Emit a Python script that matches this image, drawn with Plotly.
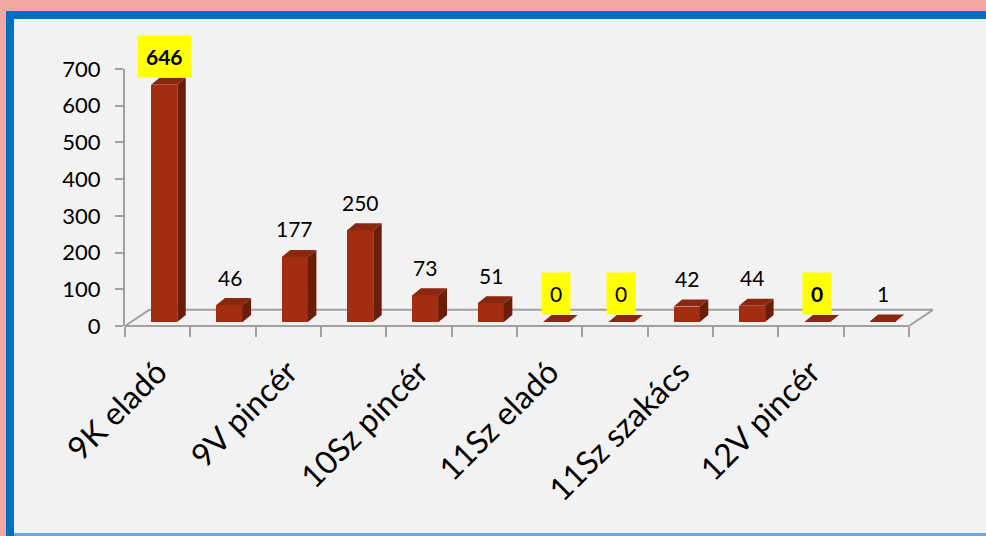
import plotly.graph_objects as go

# ---- data ----
values = [646, 46, 177, 250, 73, 51, 0, 0, 42, 44, 0, 1]
tick_labels = ["9K eladó", "9V pincér", "10Sz pincér", "11Sz eladó", "11Sz szakács", "12V pincér"]
tick_positions = [0, 2, 4, 6, 8, 10]
y_ticks = [0, 100, 200, 300, 400, 500, 600, 700]

# ---- style ----
highlight = [True, False, False, False, False, False, True, True, False, False, True, False]
bold = [True, False, False, False, False, False, False, False, False, False, True, False]
FRONT = "#A32D10"
TOP = "#8A2710"
SIDE = "#6A1D0A"
FONT = "Lato"

n = len(values)
xr = [-0.5, n - 0.5 + 0.37]
yr = [0, 700]
base = 11          # bars stand in the middle of the floor depth
bw = 0.4           # front face width
off = 0.1          # shift of front face centre
dx, dy = 0.13, 19  # 3D depth of each bar
fdx, fdy = 0.37, 44  # depth of the floor

fig = go.Figure()

# front faces
fig.add_trace(go.Bar(
    x=[i + off for i in range(n)], y=values, base=[base] * n, width=bw,
    marker=dict(color=FRONT, line=dict(width=0)), hoverinfo="skip", showlegend=False,
))

# side & top faces
sx, sy, tx, ty = [], [], [], []
for i, v in enumerate(values):
    l = i + off - bw / 2
    r = i + off + bw / 2
    b = base
    t = base + v
    sx += [r, r + dx, r + dx, r, r, None]
    sy += [b, b + dy, t + dy, t, b, None]
    tx += [l, r, r + dx, l + dx, l, None]
    ty += [t, t, t + dy, t + dy, t, None]
fig.add_trace(go.Scatter(x=sx, y=sy, fill="toself", fillcolor=SIDE, mode="lines",
                         line=dict(width=0, color=SIDE), hoverinfo="skip", showlegend=False))
fig.add_trace(go.Scatter(x=tx, y=ty, fill="toself", fillcolor=TOP, mode="lines",
                         line=dict(width=0, color=TOP), hoverinfo="skip", showlegend=False))

# dummy trace for label axis
fig.add_trace(go.Scatter(x=[xr[0], xr[1]], y=[0, 0], xaxis="x2", mode="none",
                         hoverinfo="skip", showlegend=False))

# value labels
for i, v in enumerate(values):
    txt = f"<b>{v}</b>" if bold[i] else str(v)
    fig.add_annotation(
        x=i + off, y=v + base, xref="x", yref="y", text=txt, showarrow=False,
        yanchor="middle", yshift=28,
        font=dict(family=FONT, size=21, color="black"),
        bgcolor="#FFFF00" if highlight[i] else "rgba(0,0,0,0)",
        borderpad=8 if highlight[i] else 0,
    )

# floor outline (paper coords derived from axis values)
def fx(v):
    return (v - xr[0]) / (xr[1] - xr[0])

def fy(v):
    return (v - yr[0]) / (yr[1] - yr[0])

GRAY = "#A0A0A0"
floor = [
    ((-0.5, 0), (n - 0.5, 0)),
    ((-0.5, 0), (-0.5 + fdx, fdy)),
    ((-0.5 + fdx, fdy), (n - 0.5 + fdx, fdy)),
    ((n - 0.5, 0), (n - 0.5 + fdx, fdy)),
]
for (x0, y0), (x1, y1) in floor:
    fig.add_shape(type="line", xref="paper", yref="paper",
                  x0=fx(x0), y0=fy(y0), x1=fx(x1), y1=fy(y1),
                  line=dict(color=GRAY, width=2), layer="below")

# frame decoration (paper coords from pixel layout)
L, R, T, B = 125, 933, 69, 326
W, H = 986, 536
def px(p):
    return (p - L) / (R - L)
def py(q):
    return (B - q) / (B - T)

frame = [
    (0, W, 0, 11, "#F3A6A4"),
    (0, 6, 0, H, "#F3A6A4"),
    (6, W, 11, 19, "#0070C0"),
    (6, 14, 11, H, "#0070C0"),
    (14, W, 533, H, "#6FA8DC"),
]
for x0, x1, y0, y1, c in frame:
    fig.add_shape(type="rect", xref="paper", yref="paper",
                  x0=px(x0), x1=px(x1), y0=py(y1), y1=py(y0),
                  fillcolor=c, line=dict(width=0))

fig.update_layout(
    width=W, height=H,
    margin=dict(l=L, r=W - R, t=T, b=H - B),
    paper_bgcolor="#F2F2F2", plot_bgcolor="#F2F2F2",
    font=dict(family=FONT, color="black"),
    bargap=0,
    xaxis=dict(
        range=xr, tickvals=[i - 0.5 for i in range(n + 1)], ticks="outside",
        ticklen=10, tickwidth=2, tickcolor=GRAY, showticklabels=False,
        showline=False, showgrid=False, zeroline=False,
    ),
    xaxis2=dict(
        range=xr, overlaying="x", side="bottom", anchor="y",
        tickvals=tick_positions, ticktext=tick_labels, tickangle=-45,
        ticks="", showline=False, showgrid=False, zeroline=False,
        tickfont=dict(family=FONT, size=32, color="black"),
        ticklabelstandoff=20,
    ),
    yaxis=dict(
        range=yr, tickvals=y_ticks, ticks="outside", ticklen=8, tickwidth=2,
        tickcolor=GRAY, showline=True, linecolor=GRAY, linewidth=2,
        showgrid=False, zeroline=False,
        tickfont=dict(family=FONT, size=22, color="black"),
        ticklabelstandoff=10,
    ),
)

fig.write_html(
    "out.html",
    config={"displayModeBar": False},
    post_script="document.body.style.margin='0';document.body.style.overflow='hidden';",
)
